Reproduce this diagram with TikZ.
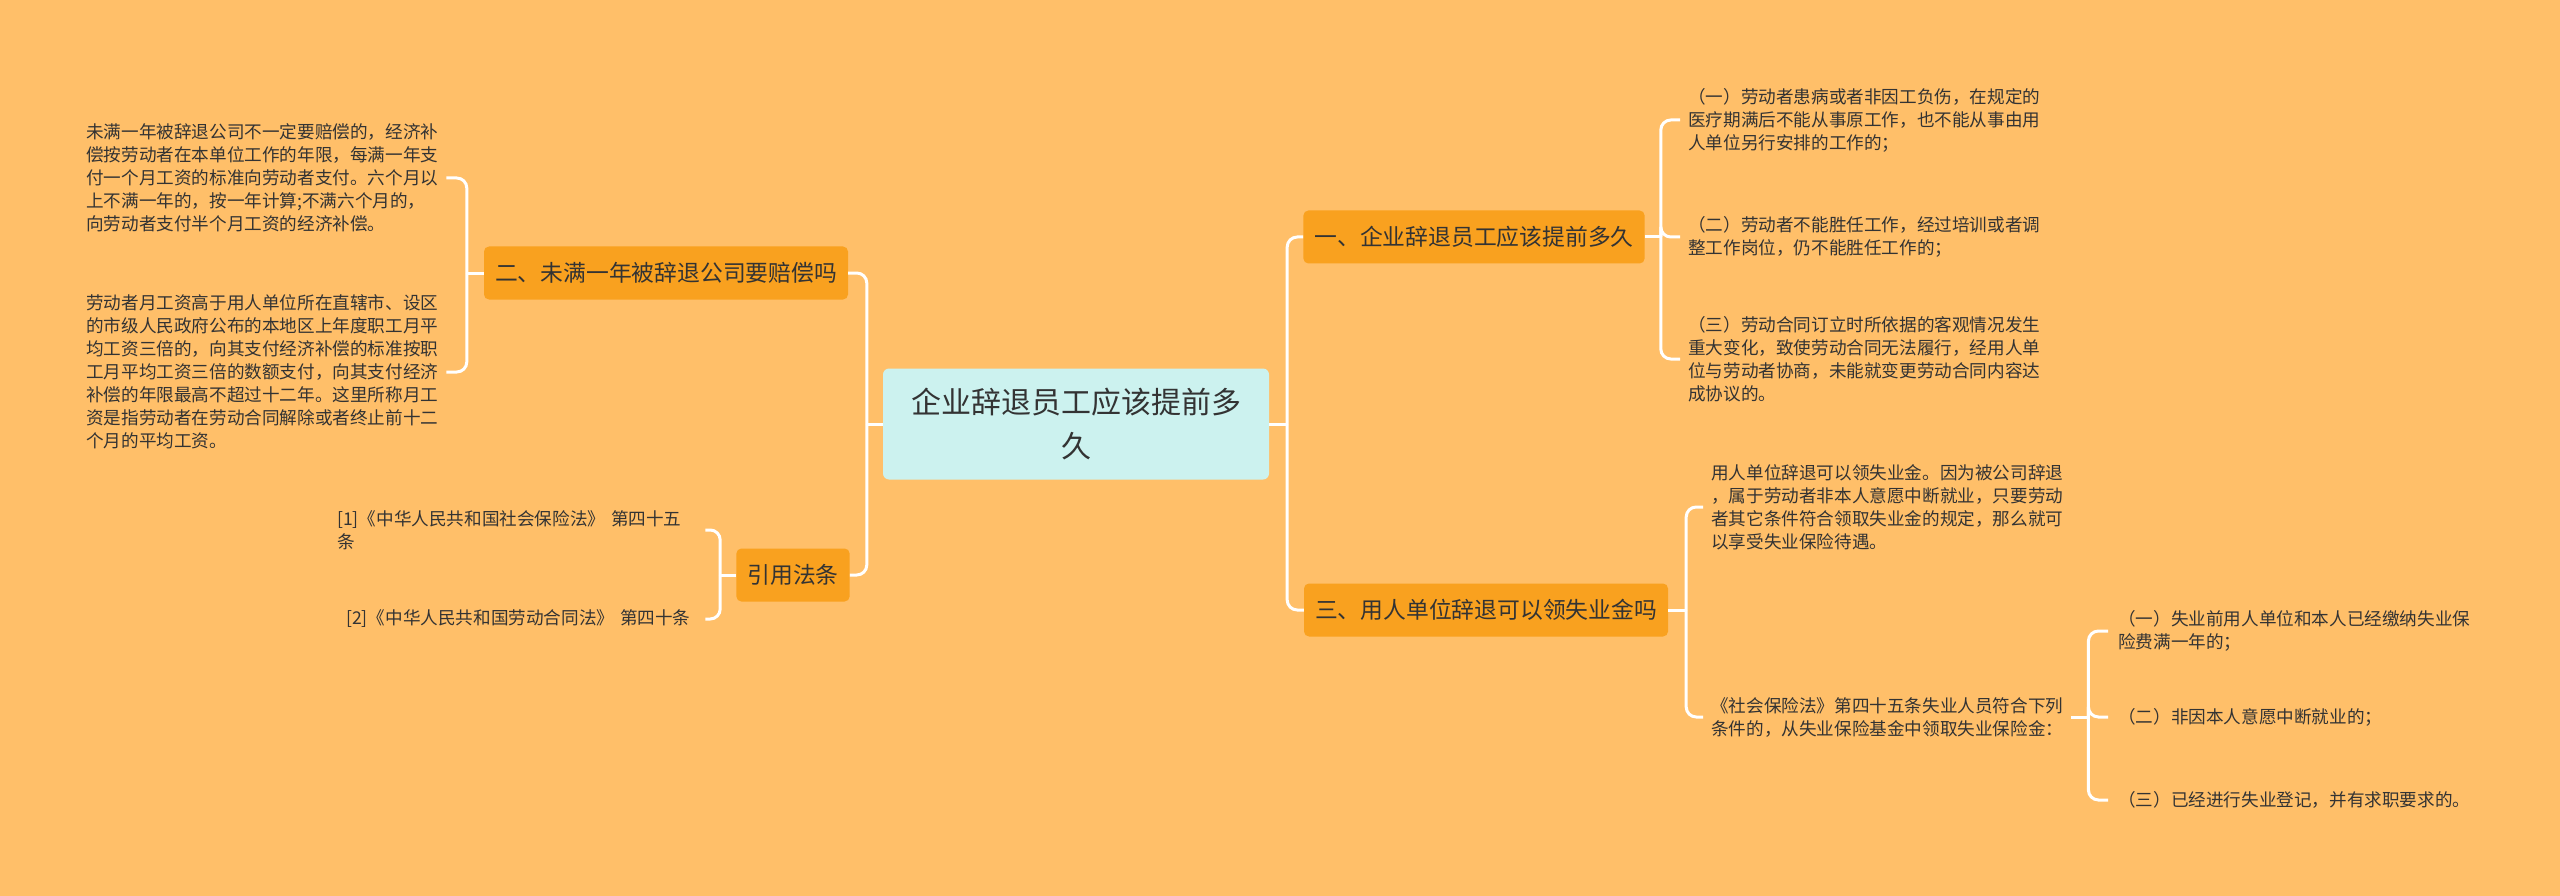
\documentclass[tikz,border=0pt]{standalone}
\usepackage{fontspec}
\setmainfont{Noto Sans CJK SC}
\usepackage{tikz}
\usetikzlibrary{positioning,calc}

\definecolor{bgc}{HTML}{FFBF69}
\definecolor{topicc}{HTML}{F9A11F}
\definecolor{rootc}{HTML}{CCF2EF}
\definecolor{txt}{HTML}{333333}

\begin{document}
\begin{tikzpicture}[
    x=1pt, y=-1pt,
    root/.style={fill=rootc, rounded corners=6pt, text=txt, align=center,
                 minimum width=386pt, minimum height=111pt,
                 font=\fontsize{30}{44}\selectfont},
    topic/.style={fill=topicc, rounded corners=5pt, text=txt, inner xsep=11pt,
                  minimum height=53pt, font=\fontsize{22.8}{28}\selectfont},
    leaf/.style={text=txt, align=left, inner xsep=8pt, inner ysep=2pt,
                 font=\fontsize{17.6}{23}\selectfont},
    link/.style={draw=white, line width=3pt, rounded corners=10pt}
  ]
    \fill[bgc] (0,0) rectangle (2560,896);

    % centre and main topics
    \node[root] (R) at (1076,424) {企业辞退员工应该提前多\\久};
    \node[topic] (T1) at (1474,237) {一、企业辞退员工应该提前多久};
    \node[topic] (T2) at (666,273) {二、未满一年被辞退公司要赔偿吗};
    \node[topic] (T3) at (1486,610) {三、用人单位辞退可以领失业金吗};
    \node[topic] (T4) at (793,575) {引用法条};

    % details
    \node[leaf, anchor=west] (T1a) at (1680,120)
      {（一）劳动者患病或者非因工负伤，在规定的\\医疗期满后不能从事原工作，也不能从事由用\\人单位另行安排的工作的；};
    \node[leaf, anchor=west] (T1b) at (1680,237)
      {（二）劳动者不能胜任工作，经过培训或者调\\整工作岗位，仍不能胜任工作的；};
    \node[leaf, anchor=west] (T1c) at (1680,359)
      {（三）劳动合同订立时所依据的客观情况发生\\重大变化，致使劳动合同无法履行，经用人单\\位与劳动者协商，未能就变更劳动合同内容达\\成协议的。};

    \node[leaf, anchor=west] (T2a) at (78,178)
      {未满一年被辞退公司不一定要赔偿的，经济补\\偿按劳动者在本单位工作的年限，每满一年支\\付一个月工资的标准向劳动者支付。六个月以\\上不满一年的，按一年计算;不满六个月的，\\向劳动者支付半个月工资的经济补偿。};
    \node[leaf, anchor=west] (T2b) at (78,372)
      {劳动者月工资高于用人单位所在直辖市、设区\\的市级人民政府公布的本地区上年度职工月平\\均工资三倍的，向其支付经济补偿的标准按职\\工月平均工资三倍的数额支付，向其支付经济\\补偿的年限最高不超过十二年。这里所称月工\\资是指劳动者在劳动合同解除或者终止前十二\\个月的平均工资。};

    \node[leaf, anchor=west] (T3a) at (1703,507)
      {用人单位辞退可以领失业金。因为被公司辞退\\，属于劳动者非本人意愿中断就业，只要劳动\\者其它条件符合领取失业金的规定，那么就可\\以享受失业保险待遇。};
    \node[leaf, anchor=west] (T3b) at (1703,717)
      {《社会保险法》第四十五条失业人员符合下列\\条件的，从失业保险基金中领取失业保险金：};
    \node[leaf, anchor=west, inner xsep=10pt] (T3b1) at (2108,631)
      {（一）失业前用人单位和本人已经缴纳失业保\\险费满一年的；};
    \node[leaf, anchor=west, inner xsep=10pt] (T3b2) at (2108,717)
      {（二）非因本人意愿中断就业的；};
    \node[leaf, anchor=west, inner xsep=10pt] (T3b3) at (2108,800)
      {（三）已经进行失业登记，并有求职要求的。};

    \node[leaf, anchor=west, text width=360pt] (T4a) at (329,530)
      {[1]《中华人民共和国社会保险法》 第四十五\\条};
    \node[leaf, anchor=west, text width=351pt] (T4b) at (338,619)
      {[2]《中华人民共和国劳动合同法》 第四十条};

    % junctions
    \coordinate (jl) at ([xshift=-16pt]R.west);
    \coordinate (jr) at ([xshift=18pt]R.east);
    \coordinate (j1) at ([xshift=16pt]T1.east);
    \coordinate (j2) at ([xshift=-17pt]T2.west);
    \coordinate (j3) at ([xshift=18pt]T3.east);
    \coordinate (j3b) at ([xshift=17pt]T3b.east);
    \coordinate (j4) at ([xshift=-16pt]T4.west);

    % links
    \draw[link] (R.west) -- (jl);
    \draw[link] (R.east) -- (jr);
    \foreach \t in {T2,T4} \draw[link] (jl) |- (\t.east);
    \foreach \t in {T1,T3} \draw[link] (jr) |- (\t.west);

    \draw[link] (T1.east) -- (j1);
    \foreach \t in {T1a,T1b,T1c} \draw[link] (j1) |- (\t.west);
    \draw[link] (T2.west) -- (j2);
    \foreach \t in {T2a,T2b} \draw[link] (j2) |- (\t.east);
    \draw[link] (T3.east) -- (j3);
    \foreach \t in {T3a,T3b} \draw[link] (j3) |- (\t.west);
    \draw[link] (T3b.east) -- (j3b);
    \foreach \t in {T3b1,T3b2,T3b3} \draw[link] (j3b) |- (\t.west);
    \draw[link] (T4.west) -- (j4);
    \foreach \t in {T4a,T4b} \draw[link] (j4) |- (\t.east);
\end{tikzpicture}
\end{document}
